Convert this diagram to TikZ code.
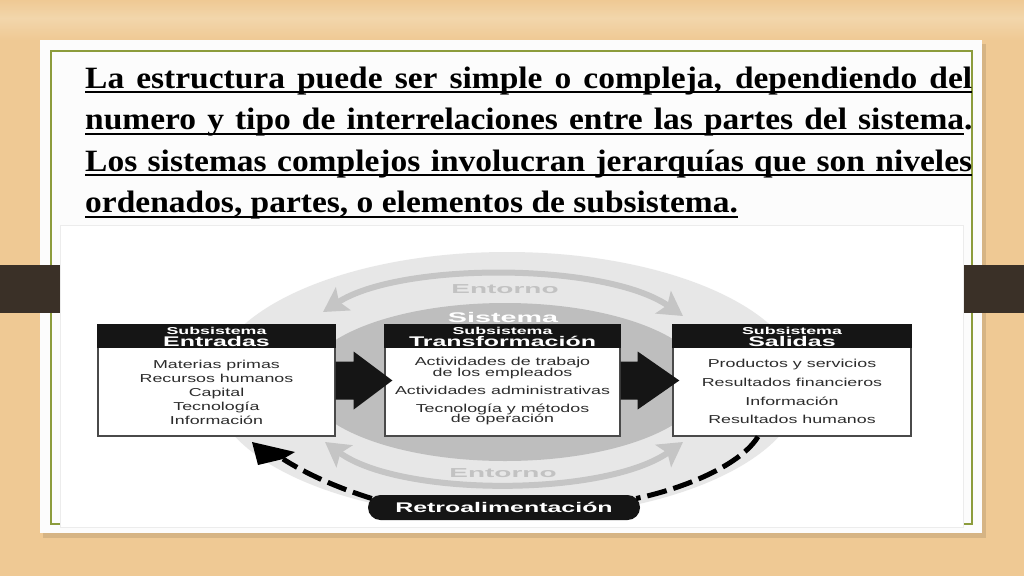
\documentclass[tikz,border=0pt]{standalone}
\usepackage{fontspec}
\usepackage{graphicx}
\usetikzlibrary{arrows.meta,calc}
\setmainfont{Liberation Sans}
\newfontfamily\ttlfont{Liberation Serif}[FakeStretch=1.08]
\definecolor{wood}{HTML}{EFC994}
\definecolor{woodlight}{HTML}{F2D6AB}
\definecolor{frame}{HTML}{8C9C3C}
\definecolor{bar}{HTML}{3A3027}
\definecolor{outerg}{HTML}{E7E7E7}
\definecolor{innerg}{HTML}{BEBEBE}
\definecolor{arcg}{HTML}{C5C5C5}
\definecolor{envtext}{HTML}{C2C2C2}
\definecolor{boxline}{HTML}{4A4A4A}
\definecolor{hdr}{HTML}{151515}
\definecolor{bodytext}{HTML}{2C2C2C}
\newcommand{\sx}[2]{\scalebox{#1}[1]{#2}}
\begin{document}
\begin{tikzpicture}[x=1pt,y=-1pt,
  subbox/.style={draw=boxline, line width=1.3pt, fill=white, minimum height=111pt, inner sep=0pt},
  hdrsmall/.style={anchor=base, inner sep=0pt, text=white, font=\fontsize{10}{12}\selectfont\bfseries},
  hdrbig/.style={anchor=base, inner sep=0pt, text=white, font=\fontsize{14}{16}\selectfont\bfseries},
  body/.style={anchor=base, inner sep=0pt, text=bodytext, font=\fontsize{11.5}{13}\selectfont},
  ttl/.style={anchor=base west, inner sep=0pt, text=black, font=\ttlfont\bfseries\fontsize{31}{40}\selectfont},
  uline/.style={draw=black, line width=2pt},
  envlabel/.style={anchor=base, inner sep=0pt, text=envtext, font=\fontsize{13}{15}\selectfont\bfseries},
  envarc/.style={draw=arcg, line width=6pt, {Stealth[length=24pt,width=27pt,inset=5pt]}-{Stealth[length=24pt,width=27pt,inset=5pt]}},
  fb/.style={draw=black, line width=5pt, dash pattern=on 20pt off 7pt},
  pill/.style={fill=hdr, rounded corners=12.5pt, minimum width=272pt, minimum height=25pt, inner sep=0pt, text=white, font=\fontsize{14}{16}\selectfont\bfseries}
]
\useasboundingbox (0,0) rectangle (1024,576);
% background
\fill[wood] (0,0) rectangle (1024,576);
\shade[top color=wood, bottom color=woodlight] (0,0) rectangle (1024,18);
\shade[top color=woodlight, bottom color=wood] (0,18) rectangle (1024,40);
% card
\fill[black, opacity=0.10] (43,44) rectangle (986,538);
\fill[white!98!gray] (40,40) rectangle (982,533);
\draw[frame, line width=1.4pt] (51,51) rectangle (972,524);
% side bars
\fill[bar] (0,265) rectangle (60,313);
\fill[bar] (963,265) rectangle (1024,313);
% title
\node[ttl] (l1) at (85,88) {\makebox[887pt][s]{La estructura puede ser simple o compleja, dependiendo del}};
\node[ttl] (l2) at (85,129.5) {\makebox[887pt][s]{\makebox[879pt][s]{numero y tipo de interrelaciones entre las partes del sistema}.}};
\node[ttl] (l3) at (85,171) {\makebox[887pt][s]{Los sistemas complejos involucran jerarquías que son niveles}};
\node[ttl] (l4) at (85,212.5) {ordenados, partes, o elementos de subsistema.};
\draw[uline] ($(l1.base west)+(0,4)$) -- ($(l1.base east)+(0,4)$);
\draw[uline] ($(l2.base west)+(0,4)$) -- ($(l2.base east)+(-8,4)$);
\draw[uline] ($(l3.base west)+(0,4)$) -- ($(l3.base east)+(0,4)$);
\draw[uline] ($(l4.base west)+(0,4)$) -- ($(l4.base east)+(0,4)$);
% diagram area
\fill[white] (60,225) rectangle (963,527);
\draw[gray!15, line width=0.8pt] (60,225) rectangle (963,527);
% environment and system
\fill[outerg] (507,385) ellipse [x radius=295, y radius=133];
\coordinate (tl) at (323,312);
\coordinate (tr) at (683,316);
\coordinate (bl) at (325,442);
\coordinate (br) at (683,442);
\draw[envarc] (tl) .. controls (400,262) and (605,262) .. (tr);
\draw[envarc] (bl) .. controls (400,497) and (605,497) .. (br);
\node[envlabel] (envtop) at (505,293.5) {\sx{2.15}{Entorno}};
\node[envlabel] (envbot) at (503,477.5) {\sx{2.15}{Entorno}};
\fill[innerg] (505,382) ellipse [x radius=200, y radius=79];
\node[hdrbig] (sist) at (503,322) {\sx{2.05}{Sistema}};
% boxes
\node[subbox, minimum width=237pt] (ent) at (216.5,380.5) {};
\node[subbox, minimum width=235pt] (tra) at (502.5,380.5) {};
\node[subbox, minimum width=238pt] (sal) at (792,380.5) {};
% feedback
\node[pill] (retro) at (504,507.5) {\sx{1.78}{Retroalimentación}};
\coordinate (fbA) at ($(sal.south)+(-34,0)$);
\coordinate (fbtip) at (252,442);
\coordinate (fbnotch) at ($(fbtip)+(31,17)$);
\draw[fb] (fbA) .. controls (742,463) and (690,487) .. ($(retro.east)+(-4,-9)$);
\draw[fb] ($(retro.west)+(4,-9)$) .. controls (335,487) and (305,473) .. (fbnotch);
\fill[black] (fbtip) -- ($(fbtip)+(43,10)$) -- (fbnotch) -- ($(fbtip)+(6,23)$) -- cycle;
% headers
\foreach \b in {ent,tra,sal}{
  \fill[hdr] (\b.north west) rectangle ($(\b.north east)+(0,24)$);
}
\node[hdrsmall] (entsub) at ($(ent.north)+(0,10)$) {\sx{1.78}{Subsistema}};
\node[hdrbig] (entname) at ($(ent.north)+(0,22)$) {\sx{1.78}{Entradas}};
\node[hdrsmall] (trasub) at ($(tra.north)+(0,10)$) {\sx{1.78}{Subsistema}};
\node[hdrbig] (traname) at ($(tra.north)+(0,22)$) {\sx{1.78}{Transformación}};
\node[hdrsmall] (salsub) at ($(sal.north)+(0,10)$) {\sx{1.78}{Subsistema}};
\node[hdrbig] (salname) at ($(sal.north)+(0,22)$) {\sx{1.78}{Salidas}};
% bodies
\node[body] (e1) at ($(ent.north)+(0,44)$) {\sx{1.55}{Materias primas}};
\node[body] (e2) at ($(ent.north)+(0,58)$) {\sx{1.55}{Recursos humanos}};
\node[body] (e3) at ($(ent.north)+(0,72)$) {\sx{1.55}{Capital}};
\node[body] (e4) at ($(ent.north)+(0,86)$) {\sx{1.55}{Tecnología}};
\node[body] (e5) at ($(ent.north)+(0,100)$) {\sx{1.55}{Información}};
\node[body] (t1) at ($(tra.north)+(0,41.5)$) {\sx{1.55}{Actividades de trabajo}};
\node[body] (t2) at ($(tra.north)+(0,52)$) {\sx{1.55}{de los empleados}};
\node[body] (t3) at ($(tra.north)+(0,70)$) {\sx{1.55}{Actividades administrativas}};
\node[body] (t4) at ($(tra.north)+(0,88)$) {\sx{1.55}{Tecnología y métodos}};
\node[body] (t5) at ($(tra.north)+(0,98.5)$) {\sx{1.55}{de operación}};
\node[body] (s1) at ($(sal.north)+(0,43)$) {\sx{1.55}{Productos y servicios}};
\node[body] (s2) at ($(sal.north)+(0,62)$) {\sx{1.55}{Resultados financieros}};
\node[body] (s3) at ($(sal.north)+(0,81)$) {\sx{1.55}{Información}};
\node[body] (s4) at ($(sal.north)+(0,99)$) {\sx{1.55}{Resultados humanos}};
% big arrows
\fill[hdr] ($(ent.east)+(0,-19)$) -- ++(18,0) -- ++(0,-10) -- ($(tra.west)+(8,0)$) -- ($(ent.east)+(18,29)$) -- ++(0,-10) -- ($(ent.east)+(0,19)$) -- cycle;
\fill[hdr] ($(tra.east)+(0,-19)$) -- ++(17,0) -- ++(0,-10) -- ($(sal.west)+(7,0)$) -- ($(tra.east)+(17,29)$) -- ++(0,-10) -- ($(tra.east)+(0,19)$) -- cycle;
\end{tikzpicture}
\end{document}
